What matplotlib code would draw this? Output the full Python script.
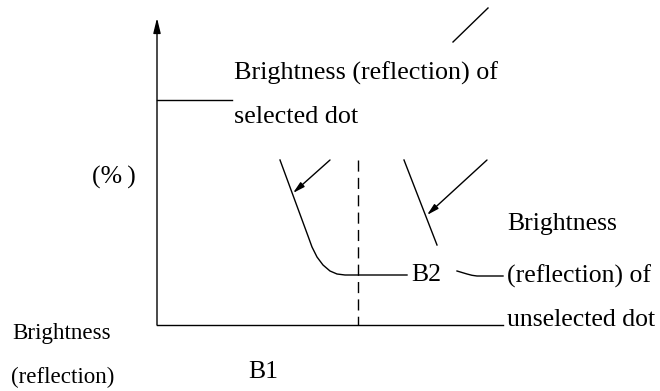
import matplotlib
matplotlib.use("Agg")
import matplotlib.pyplot as plt

# Schematic data (in drawing units: x to the right, y downward)
axis_origin = (157, 325)
y_axis_top = 18
x_axis_end = 503

selected_level_x = [157, 232]
selected_level_y = [100, 100]

curve_x = [280, 308, 312, 317, 323, 330, 337, 345, 407]
curve_y = [160, 236, 247, 257, 265, 271, 274, 275, 275]

unselected_line_x = [404, 437]
unselected_line_y = [160, 245]

top_line_x = [453, 488]
top_line_y = [42, 8]

tilde_x = [457, 462, 467, 472, 477, 503]
tilde_y = [271, 272.5, 274, 275.3, 276, 276]

b1_x = 358
b1_dash_y = [160, 325]

arrow1 = ((330, 160), (293, 193))
arrow2 = ((487, 160), (427, 215))

labels = [
    ("Brightness (reflection) of", 234, 73, "left", 18.8),
    ("selected dot", 234, 117, "left", 18.8),
    ("(%\u2009)", 114, 177, "center", 18.5),
    ("Brightness", 507, 224, "left", 18.5),
    ("(reflection) of", 507, 276, "left", 18.5),
    ("unselected dot", 507, 320, "left", 18.5),
    ("B2", 426, 275, "center", 18.5),
    ("B1", 263, 372, "center", 18.5),
    ("Brightness", 12, 333, "left", 16.6),
    ("(reflection)", 11, 377, "left", 16.6),
]

fig = plt.figure(figsize=(6.6, 3.91), dpi=100)
ax = fig.add_axes([0, 0, 1, 1])
ax.set_xlim(0, 660)
ax.set_ylim(391, 0)
ax.axis("off")

lw = 1.0
k = "black"
ox, oy = axis_origin
# axes
ax.plot([ox, x_axis_end], [oy, oy], color=k, lw=lw)
ax.annotate("", xy=(ox, y_axis_top), xytext=(ox, oy),
            arrowprops=dict(arrowstyle="-|>,head_length=0.9,head_width=0.22",
                            color=k, lw=lw, shrinkA=0, shrinkB=0))
ax.plot(selected_level_x, selected_level_y, color=k, lw=lw)
ax.plot(curve_x, curve_y, color=k, lw=lw)
ax.plot(unselected_line_x, unselected_line_y, color=k, lw=lw)
ax.plot(top_line_x, top_line_y, color=k, lw=lw)
ax.plot(tilde_x, tilde_y, color=k, lw=lw)
ax.plot([b1_x, b1_x], b1_dash_y, color=k, lw=lw, linestyle=(0, (8, 4.5)))

for start, end in (arrow1, arrow2):
    ax.annotate("", xy=end, xytext=start,
                arrowprops=dict(arrowstyle="-|>,head_length=0.7,head_width=0.18",
                                color=k, lw=lw, shrinkA=0, shrinkB=0))

for txt, x, y, ha, fs in labels:
    ax.text(x, y, txt, ha=ha, va="center", fontsize=fs,
            family=["Liberation Serif", "DejaVu Serif"], color=k)

fig.savefig("out.png", dpi=100)
